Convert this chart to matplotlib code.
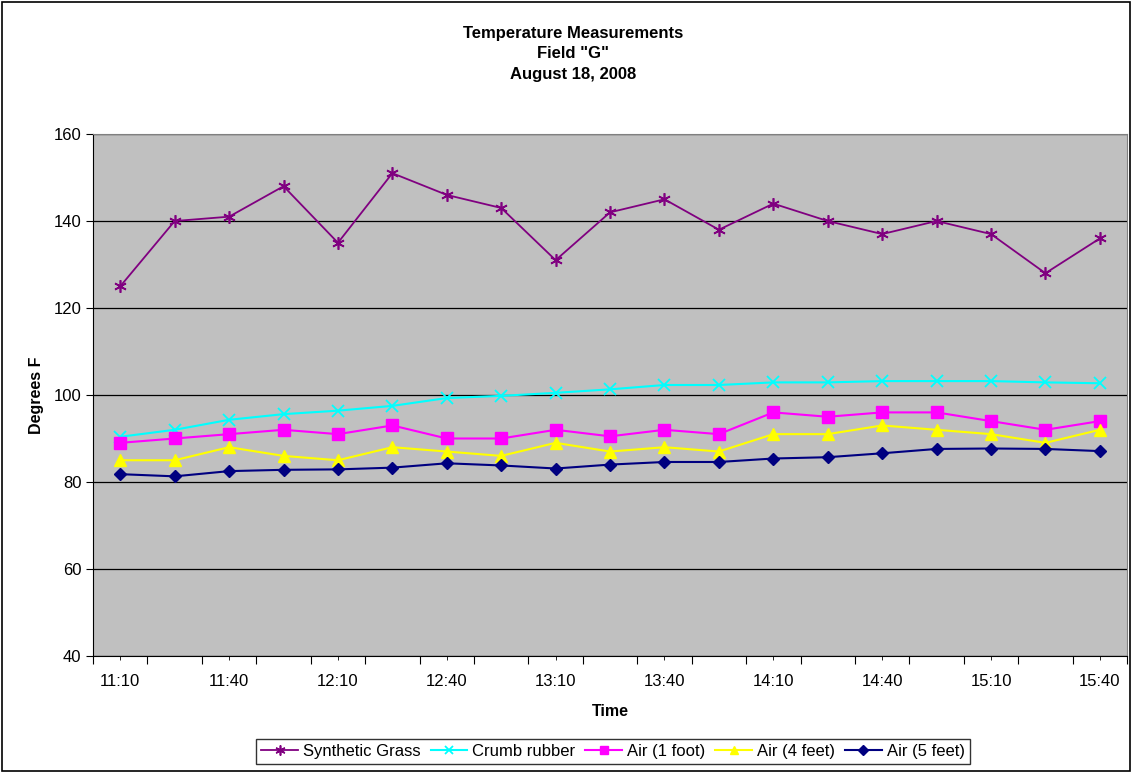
import matplotlib.pyplot as plt
import numpy as np
from matplotlib.patches import Rectangle

plt.rcParams['font.family'] = ['Liberation Sans', 'DejaVu Sans']

times = ['11:10', '11:25', '11:40', '11:55', '12:10', '12:25', '12:40', '12:55',
         '13:10', '13:25', '13:40', '13:55', '14:10', '14:25', '14:40', '14:55',
         '15:10', '15:25', '15:40']

synthetic_grass = [125, 140, 141, 148, 135, 151, 146, 143, 131, 142, 145, 138,
                   144, 140, 137, 140, 137, 128, 136]
crumb_rubber = [90.4, 92.0, 94.3, 95.6, 96.4, 97.5, 99.3, 99.8, 100.5, 101.3,
                102.3, 102.3, 102.9, 102.9, 103.2, 103.2, 103.2, 102.9, 102.7]
air_1ft = [89, 90, 91, 92, 91, 93, 90, 90, 92, 90.5, 92, 91, 96, 95, 96, 96,
           94, 92, 94]
air_4ft = [85, 85, 88, 86, 85, 88, 87, 86, 89, 87, 88, 87, 91, 91, 93, 92, 91,
           89, 92]
air_5ft = [81.8, 81.3, 82.5, 82.8, 82.9, 83.3, 84.3, 83.8, 83.1, 84.0, 84.6,
           84.6, 85.4, 85.7, 86.6, 87.6, 87.7, 87.6, 87.1]

x = np.arange(len(times))

fig = plt.figure(figsize=(11.35, 7.73), dpi=100)
ax = fig.add_axes([0.082, 0.1514, 0.911, 0.6752])
ax.set_facecolor('#C0C0C0')

ax.plot(x, synthetic_grass, color='#800080', marker=(6, 2, 0), ms=9, mew=1.2,
        lw=1.3, label='Synthetic Grass')
ax.plot(x, crumb_rubber, color='#00FFFF', marker='x', ms=8, mew=1.3,
        lw=1.5, label='Crumb rubber')
ax.plot(x, air_1ft, color='#FF00FF', marker='s', ms=8, lw=1.5,
        label='Air (1 foot)')
ax.plot(x, air_4ft, color='#FFFF00', marker='^', ms=8, lw=1.5,
        label='Air (4 feet)')
ax.plot(x, air_5ft, color='#000080', marker='D', ms=6, lw=1.5,
        label='Air (5 feet)')

ax.set_xlim(-0.5, len(times) - 0.5)
ax.set_ylim(40, 160)
ax.set_yticks(np.arange(40, 161, 20))
ax.yaxis.grid(True, color='black', lw=0.9)
ax.set_axisbelow(True)

# major ticks between categories, labels on every other category
ax.set_xticks(np.arange(-0.5, len(times), 1))
ax.set_xticklabels([])
ax.set_xticks(x[::2], minor=True)
ax.set_xticklabels(times[::2], minor=True)
ax.tick_params(axis='x', which='major', length=6, direction='out', color='black')
ax.tick_params(axis='x', which='minor', length=3, pad=10, labelsize=12)
ax.tick_params(axis='y', length=5, labelsize=12)

for s in ['top', 'right']:
    ax.spines[s].set_color('#808080')
for s in ['left', 'bottom']:
    ax.spines[s].set_color('black')

ax.set_xlabel('Time', fontsize=11.5, fontweight='bold', labelpad=11)
ax.set_ylabel('Degrees F', fontsize=11.5, fontweight='bold', labelpad=7)

fig.text(0.505, 0.957, 'Temperature Measurements', ha='center', va='center',
         fontsize=12, fontweight='bold')
fig.text(0.505, 0.931, 'Field "G"', ha='center', va='center',
         fontsize=12, fontweight='bold')
fig.text(0.505, 0.903, 'August 18, 2008', ha='center', va='center',
         fontsize=12, fontweight='bold')

leg = fig.legend(loc='center', bbox_to_anchor=(0.54, 0.0275), ncol=5,
                 fontsize=12, frameon=True, fancybox=False, edgecolor='black',
                 handlelength=2.2, handletextpad=0.3, columnspacing=0.6,
                 borderpad=0.3, markerscale=0.8)
leg.get_frame().set_linewidth(1.0)

fig.patches.append(Rectangle((0.002, 0.003), 0.994, 0.994, transform=fig.transFigure,
                             fill=False, edgecolor='black', lw=1.2))

fig.savefig('out.png', dpi=100)
